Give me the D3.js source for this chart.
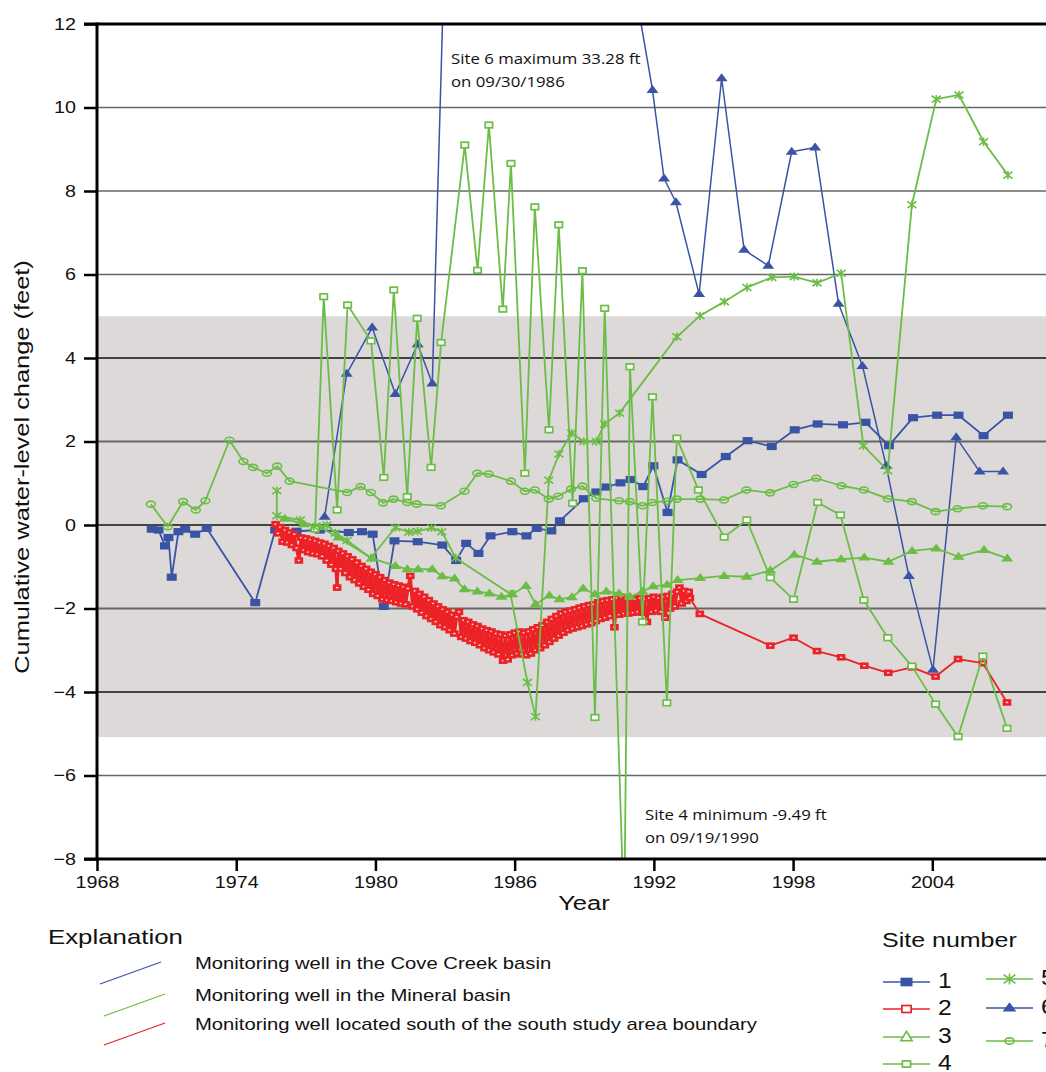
<!DOCTYPE html>
<html>
<head>
<meta charset="utf-8">
<script src="https://cdn.jsdelivr.net/npm/d3@7"></script>
<style>
  body { margin: 0; background: #fff; }
  svg { display: block; }
  text { font-family: "Liberation Sans", Arial, sans-serif; fill: #111; }
  .note { font-family: "Open Sans", "Noto Sans", sans-serif; }
</style>
</head>
<body>
<svg id="chart" width="1046" height="1072"></svg>
<script>
// ---- axis ticks ----
const yearTicks = [1968, 1974, 1980, 1986, 1992, 1998, 2004];
const valueTicks = [12, 10, 8, 6, 4, 2, 0, -2, -4, -6, -8];
const gridValues = [10, 8, 6, 4, 2, 0, -2, -4, -6];
const bandRange = [5.0, -5.08];

// ---- cumulative water-level change, [decimal year, feet] ----
const site1 = [
  [1970.36,-0.10],[1970.65,-0.12],[1970.93,-0.50],[1971.08,-0.30],[1971.22,-1.25],[1971.51,-0.16],
  [1971.80,-0.10],[1972.23,-0.22],[1972.73,-0.08],[1974.82,-1.86],[1975.68,-0.12],[1976.60,-0.15],
  [1977.60,-0.12],[1978.85,-0.18],[1979.42,-0.16],[1979.88,-0.22],[1980.36,-1.95],[1980.82,-0.38],
  [1981.82,-0.40],[1982.88,-0.48],[1983.48,-0.85],[1983.91,-0.44],[1984.44,-0.68],[1984.96,-0.26],
  [1985.90,-0.16],[1986.51,-0.26],[1986.95,-0.08],[1987.58,-0.14],[1987.95,0.10],[1988.98,0.63],
  [1989.52,0.79],[1989.96,0.91],[1990.56,1.01],[1991.00,1.09],[1991.54,0.92],[1991.98,1.42],
  [1992.59,0.30],[1993.02,1.56],[1994.06,1.21],[1995.10,1.64],[1996.04,2.02],[1997.08,1.88],
  [1998.07,2.28],[1999.06,2.42],[2000.15,2.40],[2001.12,2.46],[2002.13,1.90],[2003.17,2.57],
  [2004.21,2.63],[2005.13,2.63],[2006.21,2.14],[2007.26,2.63]
];

const site2 = [
  [1975.70,0.02],[1975.80,-0.20],[1975.90,-0.05],[1976.00,-0.40],[1976.10,-0.12],[1976.20,-0.42],
  [1976.30,-0.18],[1976.40,-0.48],[1976.50,-0.22],[1976.60,-0.55],[1976.70,-0.85],[1976.80,-0.30],
  [1976.90,-0.60],[1977.00,-0.32],[1977.10,-0.65],[1977.20,-0.35],[1977.30,-0.68],[1977.40,-0.38],
  [1977.50,-0.70],[1977.60,-0.42],[1977.70,-0.75],[1977.80,-0.45],[1977.90,-0.85],[1978.00,-0.50],
  [1978.10,-0.95],[1978.20,-0.55],[1978.30,-1.05],[1978.35,-1.50],[1978.40,-0.62],[1978.50,-1.05],
  [1978.60,-0.68],[1978.70,-1.15],[1978.80,-0.75],[1978.90,-1.25],[1979.00,-0.82],[1979.10,-1.32],
  [1979.20,-0.90],[1979.30,-1.40],[1979.40,-0.98],[1979.50,-1.48],[1979.60,-1.05],[1979.70,-1.55],
  [1979.80,-1.12],[1979.90,-1.65],[1980.00,-1.18],[1980.10,-1.70],[1980.20,-1.25],[1980.30,-1.78],
  [1980.40,-1.32],[1980.50,-1.80],[1980.60,-1.38],[1980.70,-1.82],[1980.80,-1.42],[1980.90,-1.85],
  [1981.00,-1.45],[1981.10,-1.88],[1981.20,-1.48],[1981.30,-1.90],[1981.40,-1.52],[1981.50,-1.22],
  [1981.60,-1.95],[1981.70,-1.58],[1981.80,-2.02],[1981.90,-1.65],[1982.00,-2.10],[1982.10,-1.72],
  [1982.20,-2.18],[1982.30,-1.80],[1982.40,-2.25],[1982.50,-1.88],[1982.60,-2.32],[1982.70,-1.95],
  [1982.80,-2.40],[1982.90,-2.02],[1983.00,-2.45],[1983.10,-2.08],[1983.20,-2.52],[1983.30,-2.15],
  [1983.40,-2.60],[1983.50,-2.20],[1983.60,-2.08],[1983.70,-2.68],[1983.80,-2.28],[1983.90,-2.72],
  [1984.00,-2.32],[1984.10,-2.78],[1984.20,-2.38],[1984.30,-2.82],[1984.40,-2.42],[1984.50,-2.88],
  [1984.60,-2.48],[1984.70,-2.95],[1984.80,-2.52],[1984.90,-3.00],[1985.00,-2.55],[1985.10,-3.05],
  [1985.20,-2.60],[1985.30,-3.10],[1985.40,-2.62],[1985.50,-3.25],[1985.60,-2.65],[1985.70,-3.22],
  [1985.80,-2.62],[1985.90,-3.12],[1986.00,-2.58],[1986.10,-3.08],[1986.20,-2.55],[1986.30,-3.10],
  [1986.40,-2.58],[1986.50,-3.12],[1986.60,-2.55],[1986.70,-3.08],[1986.80,-2.50],[1986.90,-3.00],
  [1987.00,-2.45],[1987.10,-2.95],[1987.20,-2.40],[1987.30,-2.88],[1987.40,-2.32],[1987.50,-2.80],
  [1987.60,-2.25],[1987.70,-2.72],[1987.80,-2.18],[1987.90,-2.65],[1988.00,-2.12],[1988.10,-2.58],
  [1988.20,-2.08],[1988.30,-2.52],[1988.40,-2.05],[1988.50,-2.48],[1988.60,-2.02],[1988.70,-2.45],
  [1988.80,-1.98],[1988.90,-2.42],[1989.00,-1.95],[1989.10,-2.38],[1989.20,-1.92],[1989.30,-2.35],
  [1989.40,-1.90],[1989.50,-2.30],[1989.60,-1.85],[1989.70,-2.25],[1989.80,-1.82],[1989.90,-2.22],
  [1990.00,-1.80],[1990.10,-2.18],[1990.20,-1.78],[1990.30,-2.45],[1990.40,-1.75],[1990.50,-2.15],
  [1990.60,-1.72],[1990.70,-2.12],[1990.80,-1.75],[1990.90,-2.12],[1991.00,-1.78],[1991.10,-2.10],
  [1991.20,-1.78],[1991.30,-2.08],[1991.40,-1.75],[1991.50,-2.10],[1991.60,-1.78],[1991.70,-2.32],
  [1991.80,-1.75],[1991.90,-2.08],[1992.00,-1.72],[1992.10,-2.05],[1992.20,-1.75],[1992.30,-2.08],
  [1992.40,-1.72],[1992.50,-2.22],[1992.60,-1.70],[1992.70,-2.00],[1992.80,-1.65],[1992.90,-1.95],
  [1993.00,-1.60],[1993.10,-1.50],[1993.20,-1.88],[1993.30,-1.58],[1993.40,-1.82],[1993.50,-1.60],
  [1993.55,-1.75],[1993.98,-2.13],[1997.02,-2.89],[1998.02,-2.70],[1999.03,-3.02],[2000.07,-3.17],
  [2001.07,-3.37],[2002.10,-3.54],[2003.13,-3.41],[2004.14,-3.63],[2005.11,-3.21],[2006.18,-3.31],
  [2007.22,-4.25]
];

const site3 = [
  [1976.10,0.15],[1976.90,0.02],[1977.60,-0.05],[1978.40,-0.30],[1979.85,-0.80],[1980.86,-0.98],
  [1981.37,-1.06],[1981.84,-1.06],[1982.45,-1.06],[1982.88,-1.23],[1983.41,-1.28],[1983.84,-1.54],
  [1984.39,-1.59],[1984.91,-1.64],[1985.43,-1.72],[1985.90,-1.66],[1986.49,-1.46],[1986.90,-1.90],
  [1987.50,-1.69],[1987.93,-1.78],[1988.47,-1.73],[1988.95,-1.52],[1989.46,-1.66],[1989.95,-1.59],
  [1990.50,-1.64],[1990.97,-1.72],[1991.51,-1.59],[1991.97,-1.47],[1992.57,-1.43],[1993.02,-1.32],
  [1994.00,-1.27],[1995.03,-1.22],[1996.00,-1.24],[1997.02,-1.09],[1998.05,-0.71],[1999.03,-0.88],
  [2000.07,-0.82],[2001.07,-0.78],[2002.11,-0.88],[2003.13,-0.62],[2004.17,-0.56],[2005.13,-0.76],
  [2006.23,-0.60],[2007.23,-0.80]
];

const site4 = [
  [1977.40,-0.10],[1977.77,5.47],[1978.35,0.36],[1978.80,5.27],[1979.81,4.41],[1980.36,1.14],
  [1980.79,5.63],[1981.37,0.68],[1981.80,4.95],[1982.40,1.38],[1982.83,4.37],[1983.85,9.10],
  [1984.40,6.10],[1984.89,9.58],[1985.49,5.17],[1985.84,8.66],[1986.44,1.24],[1986.87,7.62],
  [1987.48,2.28],[1987.90,7.19],[1988.50,0.52],[1988.92,6.09],[1989.46,-4.61],[1989.88,5.19],
  [1990.72,-9.49],[1990.97,3.79],[1991.51,-2.32],[1991.94,3.07],[1992.56,-4.26],[1992.99,2.08],
  [1993.92,0.84],[1995.03,-0.29],[1996.00,0.12],[1997.02,-1.26],[1998.02,-1.78],[1999.06,0.54],
  [2000.04,0.24],[2001.05,-1.80],[2002.08,-2.70],[2003.12,-3.38],[2004.14,-4.29],[2005.11,-5.07],
  [2006.18,-3.14],[2007.22,-4.87]
];

const site5 = [
  [1975.75,0.82],[1975.75,0.22],[1976.76,0.12],[1977.34,-0.04],[1977.91,0.00],[1978.27,-0.19],
  [1978.78,-0.37],[1979.80,-0.79],[1980.86,-0.06],[1981.44,-0.17],[1981.81,-0.15],[1982.42,-0.07],
  [1982.86,-0.16],[1983.46,-0.79],[1985.82,-1.65],[1986.55,-3.77],[1986.90,-4.59],[1987.47,1.07],
  [1987.91,1.70],[1988.46,2.20],[1988.98,2.00],[1989.52,2.00],[1989.88,2.42],[1990.52,2.68],
  [1992.99,4.51],[1993.99,5.01],[1995.04,5.35],[1996.01,5.69],[1997.08,5.93],[1998.05,5.95],
  [1999.03,5.80],[2000.07,6.03],[2001.03,1.90],[2002.08,1.30],[2003.12,7.67],[2004.17,10.20],
  [2005.15,10.30],[2006.21,9.18],[2007.26,8.38]
];

const site6 = [
  [1977.81,0.20],[1978.76,3.62],[1979.86,4.73],[1980.86,3.14],[1981.82,4.33],[1982.45,3.39],
  [1983.40,22.0],[1986.75,33.28],[1989.90,17.0],[1991.94,10.42],[1992.44,8.30],[1992.95,7.73],
  [1993.95,5.53],[1994.92,10.70],[1995.89,6.59],[1996.93,6.21],[1997.94,8.94],[1998.95,9.04],
  [1999.96,5.30],[2000.99,3.81],[2002.01,1.42],[2002.99,-1.22],[2004.03,-3.47],[2005.03,2.10],
  [2006.04,1.28],[2007.05,1.28]
];

const site7 = [
  [1970.32,0.50],[1971.05,-0.04],[1971.71,0.56],[1972.26,0.36],[1972.67,0.58],[1973.71,2.03],
  [1974.31,1.52],[1974.73,1.38],[1975.32,1.24],[1975.77,1.41],[1976.30,1.05],[1978.78,0.78],
  [1979.36,0.92],[1979.80,0.78],[1980.33,0.53],[1980.78,0.62],[1981.37,0.54],[1981.78,0.50],
  [1982.82,0.46],[1983.84,0.81],[1984.39,1.24],[1984.88,1.22],[1985.84,1.05],[1986.44,0.81],
  [1986.87,0.84],[1987.47,0.62],[1987.88,0.69],[1988.43,0.86],[1988.92,0.93],[1989.52,0.64],
  [1990.50,0.58],[1990.96,0.56],[1991.51,0.46],[1991.93,0.54],[1992.56,0.57],[1992.99,0.62],
  [1994.00,0.62],[1995.02,0.60],[1995.99,0.84],[1997.01,0.77],[1998.02,0.97],[1999.00,1.12],
  [2000.08,0.94],[2001.05,0.84],[2002.08,0.63],[2003.12,0.56],[2004.14,0.32],[2005.09,0.39],
  [2006.18,0.46],[2007.22,0.44]
];

const siteLabels = ["1", "2", "3", "4", "5", "6", "7"];
const basinLabels = [
  "Monitoring well in the Cove Creek basin",
  "Monitoring well in the Mineral basin",
  "Monitoring well located south of the south study area boundary"
];

// ---- styling ----
const BLUE = "#3a54a5", GREEN = "#6bbd46", RED = "#ec2227";
// denseUntil: the stretch of frequent readings is drawn with a heavier trace
const series = [
  { data: site1, color: BLUE,  marker: "sqFilled", width: 1.8 },
  { data: site6, color: BLUE,  marker: "triFilled", width: 1.5 },
  { data: site2, color: RED,   marker: "sqRed", width: 1.8, denseUntil: 1993.6 },
  { data: site3, color: GREEN, marker: "triFilled", width: 1.8 },
  { data: site7, color: GREEN, marker: "circle", width: 1.8 },
  { data: site4, color: GREEN, marker: "sqOpen", width: 1.8 },
  { data: site5, color: GREEN, marker: "star", width: 1.8 }
];

const svg = d3.select("#chart");
const L = 97, T = 24, B = 859, R = 1046;
const SX = 1.19; // horizontal stretch of the lettering

const x = d3.scaleLinear().domain([1968, 2008.9]).range([L, R]);
const y = d3.scaleLinear().domain([-8, 12]).range([B, T]);

// text placed at (px, py) and stretched horizontally
function label(parent, px, py, str, size, opts) {
  opts = opts || {};
  const g = parent.append("g").attr("transform", `translate(${px},${py}) scale(${opts.sx || SX},1)`);
  const t = g.append("text").attr("font-size", size).text(str);
  if (opts.anchor) t.attr("text-anchor", opts.anchor);
  if (opts.cls) t.attr("class", opts.cls);
  return t;
}

// clip for the plotting area
svg.append("defs").append("clipPath").attr("id", "plotClip")
  .append("rect").attr("x", L).attr("y", T).attr("width", R - L + 5).attr("height", B - T);

// shaded band
svg.append("rect")
  .attr("x", L).attr("y", y(bandRange[0]))
  .attr("width", R - L).attr("height", y(bandRange[1]) - y(bandRange[0]))
  .attr("fill", "#dcd9d8");

// horizontal gridlines
svg.append("g").selectAll("line").data(gridValues).join("line")
  .attr("x1", L).attr("x2", R)
  .attr("y1", d => y(d)).attr("y2", d => y(d))
  .attr("stroke", d => (d === 0 || d === 4 || d === -4) ? "#111" : "#666")
  .attr("stroke-width", d => (d === 2 || d === -2) ? 2 : 1.4);

// marker drawing
function drawMarker(g, type, cx, cy, color, s) {
  s = s || 1;
  if (type === "sqFilled") {
    g.append("rect").attr("x", cx - 5 * s).attr("y", cy - 3.6 * s)
      .attr("width", 10 * s).attr("height", 7.2 * s).attr("fill", color);
  } else if (type === "sqRed") {
    g.append("rect").attr("x", cx - 4.3 * s).attr("y", cy - 3.3 * s)
      .attr("width", 8.6 * s).attr("height", 6.6 * s).attr("fill", color);
    g.append("rect").attr("x", cx - 1.2 * s).attr("y", cy - 0.7 * s)
      .attr("width", 2.4 * s).attr("height", 1.4 * s).attr("fill", "#fbe3e3");
  } else if (type === "sqOpen") {
    g.append("rect").attr("x", cx - 3.7 * s).attr("y", cy - 2.8 * s)
      .attr("width", 7.4 * s).attr("height", 5.6 * s)
      .attr("fill", "#fff").attr("stroke", color).attr("stroke-width", 1.7);
  } else if (type === "triFilled") {
    g.append("path")
      .attr("d", `M${cx - 6 * s},${cy + 3 * s}L${cx + 6 * s},${cy + 3 * s}L${cx},${cy - 5 * s}Z`)
      .attr("fill", color);
  } else if (type === "triOpen") {
    g.append("path")
      .attr("d", `M${cx - 6 * s},${cy + 4 * s}L${cx + 6 * s},${cy + 4 * s}L${cx},${cy - 6 * s}Z`)
      .attr("fill", "#fff").attr("stroke", color).attr("stroke-width", 1.6);
  } else if (type === "circle") {
    g.append("ellipse").attr("cx", cx).attr("cy", cy)
      .attr("rx", 4.4 * s).attr("ry", 3 * s)
      .attr("fill", "none").attr("stroke", color).attr("stroke-width", 1.6);
  } else if (type === "star") {
    const p = `M${cx},${cy - 4.2 * s}V${cy + 4.2 * s}` +
              `M${cx - 4.5 * s},${cy - 3.4 * s}L${cx + 4.5 * s},${cy + 3.4 * s}` +
              `M${cx - 4.5 * s},${cy + 3.4 * s}L${cx + 4.5 * s},${cy - 3.4 * s}`;
    g.append("path").attr("d", p).attr("stroke", color).attr("stroke-width", 1.6).attr("fill", "none");
  }
}

// data lines and markers
const plot = svg.append("g").attr("clip-path", "url(#plotClip)");
const line = d3.line().x(d => x(d[0])).y(d => y(d[1]));
series.forEach(s => {
  const g = plot.append("g");
  g.append("path").datum(s.data).attr("d", line)
    .attr("fill", "none").attr("stroke", s.color)
    .attr("stroke-width", s.width).attr("stroke-linejoin", "round");
  if (s.denseUntil) {
    g.append("path").datum(s.data.filter(d => d[0] <= s.denseUntil)).attr("d", line)
      .attr("fill", "none").attr("stroke", s.color)
      .attr("stroke-width", 3.2).attr("stroke-linejoin", "round");
  }
  s.data.forEach(d => drawMarker(g, s.marker, x(d[0]), y(d[1]), s.color));
});

// axes
const yAxis = d3.axisLeft(y).tickValues(valueTicks).tickSize(13).tickPadding(6).tickFormat(d3.format("d"));
const gy = svg.append("g").attr("transform", `translate(${L},0)`).call(yAxis);
gy.select(".domain").remove();
gy.selectAll(".tick line").attr("stroke", "#000").attr("stroke-width", 2.5);
gy.selectAll(".tick text").attr("font-size", 17).attr("fill", "#111")
  .attr("font-family", "'Liberation Sans', Arial, sans-serif")
  .attr("x", -21 / 1.16).attr("transform", "scale(1.16,1)");

const xAxis = d3.axisBottom(x).tickValues(yearTicks).tickSize(12).tickPadding(5).tickFormat(d3.format("d"));
const gx = svg.append("g").attr("transform", `translate(0,${B})`).call(xAxis);
gx.select(".domain").remove();
gx.selectAll(".tick line").attr("stroke", "#000").attr("stroke-width", 2.5);
gx.selectAll(".tick text").attr("font-size", 17).attr("fill", "#111")
  .attr("font-family", "'Liberation Sans', Arial, sans-serif")
  .attr("transform", "scale(1.16,1)");

// frame lines
svg.append("line").attr("x1", L).attr("x2", L).attr("y1", T - 1.5).attr("y2", B + 1.5)
  .attr("stroke", "#000").attr("stroke-width", 3);
svg.append("line").attr("x1", L - 13).attr("x2", R).attr("y1", T).attr("y2", T)
  .attr("stroke", "#000").attr("stroke-width", 3);
svg.append("line").attr("x1", L - 13).attr("x2", R).attr("y1", B).attr("y2", B)
  .attr("stroke", "#000").attr("stroke-width", 3);

// axis titles
svg.append("g").attr("transform", `translate(29,467) rotate(-90) scale(1.21,1)`)
  .append("text").attr("text-anchor", "middle").attr("font-size", 21)
  .text("Cumulative water-level change (feet)");
label(svg, 584, 910, "Year", 21, { anchor: "middle", sx: 1.22 });

// notes on the off-scale extremes
function note(xp, yp, lines) {
  lines.forEach((s, i) => label(svg, xp, yp + i * 23, s, 15, { cls: "note", sx: 1.12 }));
}
note(451, 64, ["Site 6 maximum 33.28 ft", "on 09/30/1986"]);
note(645, 820, ["Site 4 minimum -9.49 ft", "on 09/19/1990"]);

// basin legend
label(svg, 48, 944, "Explanation", 21, { sx: 1.23 });
const basinColors = [BLUE, GREEN, RED];
const basinY = [963, 995, 1024];
basinLabels.forEach((lab, i) => {
  const x0 = i === 0 ? 100 : 104;
  svg.append("line").attr("x1", x0).attr("y1", basinY[i] + 21)
    .attr("x2", x0 + 61).attr("y2", basinY[i] - 1)
    .attr("stroke", basinColors[i]).attr("stroke-width", 1.3);
  label(svg, 195, basinY[i] + 6, lab, 17, { sx: 1.19 });
});

// site legend
label(svg, 882, 947, "Site number", 21, { sx: 1.19 });
const legendItems = [
  { col: 0, y: 982, color: BLUE,  marker: "sqFilled", s: 1.2 },
  { col: 0, y: 1009, color: RED,  marker: "sqOpen", s: 1.25 },
  { col: 0, y: 1037, color: GREEN, marker: "triOpen", s: 0.95 },
  { col: 0, y: 1064, color: GREEN, marker: "sqOpen", s: 1.1 },
  { col: 1, y: 979, color: GREEN, marker: "star", s: 1.3 },
  { col: 1, y: 1008, color: BLUE,  marker: "triFilled", s: 1.15 },
  { col: 1, y: 1041, color: GREEN, marker: "circle", s: 1.05 }
];
legendItems.forEach((it, i) => {
  const x1 = it.col === 0 ? 883 : 986;
  const g = svg.append("g");
  g.append("line").attr("x1", x1).attr("x2", x1 + 47).attr("y1", it.y).attr("y2", it.y)
    .attr("stroke", it.color).attr("stroke-width", 1.5);
  drawMarker(g, it.marker, x1 + 23.5, it.y, it.color, it.s);
  label(svg, x1 + 55, it.y + 6, siteLabels[i], 22, { sx: 1.12 });
});
</script>
</body>
</html>
